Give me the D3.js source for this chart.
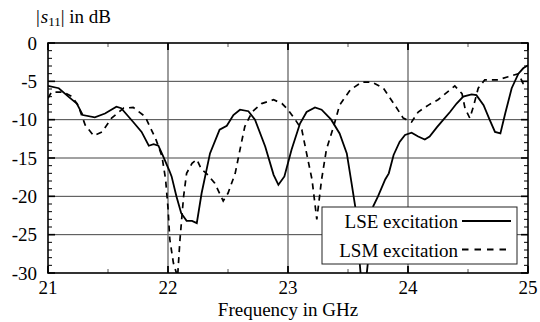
<!DOCTYPE html>
<html>
<head>
<meta charset="utf-8">
<script src="https://cdn.jsdelivr.net/npm/d3@7"></script>
</head>
<body style="margin:0;background:#fff">
<svg width="540" height="322" style="font-family:'Liberation Serif',serif"></svg>
<script>
// LSE excitation (solid)
var lseFreq = [21.0, 21.09, 21.17, 21.24, 21.29, 21.39, 21.475, 21.57, 21.61, 21.71, 21.78, 21.84, 21.88, 21.92, 21.96, 22.01,
  22.03, 22.07, 22.11, 22.155, 22.2, 22.24, 22.28, 22.35, 22.43, 22.49, 22.545, 22.6, 22.67, 22.725, 22.81, 22.88, 22.92, 22.97,
  23.03, 23.1, 23.155, 23.225, 23.28, 23.36, 23.43, 23.49, 23.53, 23.56, 23.586, 23.61, 23.65, 23.68, 23.71, 23.75, 23.81, 23.84,
  23.88, 23.93, 23.975, 24.03, 24.085, 24.14, 24.18, 24.24, 24.295, 24.35, 24.405, 24.46, 24.53, 24.57, 24.63, 24.68, 24.725,
  24.77, 24.81, 24.864, 24.92, 24.96, 25.0];
var lseDb = [-5.6, -5.9, -7.0, -7.9, -9.4, -9.7, -9.2, -8.3, -8.5, -10.3, -11.6, -13.4, -13.2, -13.4, -14.8, -16.6,
  -17.4, -20.0, -22.2, -23.2, -23.2, -23.5, -19.6, -14.4, -11.3, -10.8, -9.4, -8.7, -8.9, -10.0, -13.5, -17.2, -18.5, -17.4,
  -13.9, -10.5, -9.0, -8.4, -8.7, -10.0, -11.8, -14.4, -18.3, -21.3, -26.5, -31, -31, -26.5, -21.3, -20.0, -17.8, -17.0,
  -14.6, -12.9, -12.0, -11.7, -12.2, -12.6, -12.2, -11.0, -10.0, -9.0, -7.9, -7.0, -6.7, -6.8, -8.1, -10.0, -11.6,
  -11.8, -9.2, -5.9, -4.0, -3.3, -2.9];

// LSM excitation (dashed)
var lsmFreq = [21.0, 21.03, 21.13, 21.2, 21.25, 21.31, 21.38, 21.45, 21.53, 21.63, 21.71, 21.81, 21.9, 21.95, 21.98, 22.0,
  22.015, 22.045, 22.08, 22.1, 22.13, 22.155, 22.2, 22.24, 22.28, 22.32, 22.39, 22.46, 22.5, 22.56, 22.6, 22.64, 22.7, 22.78,
  22.88, 22.95, 23.0, 23.06, 23.115, 23.155, 23.2, 23.24, 23.28, 23.32, 23.38, 23.43, 23.52, 23.615, 23.7, 23.795, 23.89, 23.96,
  24.03, 24.085, 24.17, 24.25, 24.335, 24.39, 24.45, 24.475, 24.515, 24.545, 24.585, 24.64, 24.75, 24.835, 24.92, 24.96, 24.985];
var lsmDb = [-7.2, -6.4, -6.4, -7.0, -8.1, -10.7, -12.1, -11.6, -9.8, -8.5, -8.4, -9.6, -12.6, -14.8, -17.8, -21.5,
  -25.6, -28.7, -30.5, -25.6, -20.0, -17.0, -15.7, -15.2, -16.5, -17.0, -18.3, -20.6, -19.6, -17.0, -13.9, -10.9, -9.0, -7.9,
  -7.4, -7.9, -8.7, -10.0, -11.3, -14.4, -17.8, -23.0, -17.8, -13.9, -10.9, -8.1, -6.1, -5.1, -5.1, -5.9, -8.1, -9.8,
  -10.3, -9.0, -8.1, -7.4, -6.3, -5.6, -6.6, -8.5, -9.8, -8.3, -5.9, -4.8, -4.8, -4.4, -4.0, -5.3, -5.6];

var xTicks = [21, 22, 23, 24, 25];
var yTicks = [0, -5, -10, -15, -20, -25, -30];
var legendLabels = ["LSE excitation", "LSM excitation"];

(function() {
  var svg = d3.select("svg");
  var mLeft = 48, mRight = 528, mTop = 43, mBottom = 273;
  var fs = "19px", serif = "'Liberation Serif', 'Times New Roman', serif";

  var x = d3.scaleLinear().domain([21, 25]).range([mLeft, mRight]);
  var y = d3.scaleLinear().domain([-30, 0]).range([mBottom, mTop]);

  // clip
  svg.append("clipPath").attr("id", "plotclip")
    .append("rect").attr("x", mLeft).attr("y", mTop)
    .attr("width", mRight - mLeft).attr("height", mBottom - mTop);

  // grid lines
  var grid = svg.append("g");
  grid.selectAll(".hg").data(yTicks.filter(function(d) { return d > -30 && d < 0; }))
    .enter().append("line")
    .attr("x1", mLeft).attr("x2", mRight)
    .attr("y1", function(d) { return y(d); }).attr("y2", function(d) { return y(d); })
    .attr("stroke", "#444").attr("stroke-width", 1);
  grid.selectAll(".vg").data(xTicks.filter(function(d) { return d > 21 && d < 25; }))
    .enter().append("line")
    .attr("y1", mTop).attr("y2", mBottom)
    .attr("x1", function(d) { return x(d); }).attr("x2", function(d) { return x(d); })
    .attr("stroke", "#666").attr("stroke-width", 1.3);

  // ticks: minor every 1 dB on left/right, half GHz on top/bottom
  var ticks = svg.append("g").attr("stroke", "#000");
  var minorY = d3.range(-29, 0, 1).filter(function(d) { return d % 5 !== 0; });
  minorY.forEach(function(d) {
    ticks.append("line").attr("x1", mLeft).attr("x2", mLeft + 4).attr("y1", y(d)).attr("y2", y(d)).attr("stroke-width", 1);
    ticks.append("line").attr("x1", mRight - 4).attr("x2", mRight).attr("y1", y(d)).attr("y2", y(d)).attr("stroke-width", 1);
  });
  yTicks.forEach(function(d) {
    ticks.append("line").attr("x1", mLeft).attr("x2", mLeft + 7).attr("y1", y(d)).attr("y2", y(d)).attr("stroke-width", 1.6);
    ticks.append("line").attr("x1", mRight - 7).attr("x2", mRight).attr("y1", y(d)).attr("y2", y(d)).attr("stroke-width", 1.6);
  });
  [21.5, 22.5, 23.5, 24.5].forEach(function(d) {
    ticks.append("line").attr("x1", x(d)).attr("x2", x(d)).attr("y1", mTop).attr("y2", mTop + 4).attr("stroke-width", 1).attr("stroke", "#555");
    ticks.append("line").attr("x1", x(d)).attr("x2", x(d)).attr("y1", mBottom - 4).attr("y2", mBottom).attr("stroke-width", 1).attr("stroke", "#555");
  });
  xTicks.forEach(function(d) {
    ticks.append("line").attr("x1", x(d)).attr("x2", x(d)).attr("y1", mTop).attr("y2", mTop + 7).attr("stroke-width", 1.8);
    ticks.append("line").attr("x1", x(d)).attr("x2", x(d)).attr("y1", mBottom - 7).attr("y2", mBottom).attr("stroke-width", 1.8);
  });

  // curves
  var line = d3.line()
    .x(function(d) { return x(d[0]); })
    .y(function(d) { return y(d[1]); });

  var curves = svg.append("g").attr("clip-path", "url(#plotclip)");
  curves.append("path")
    .datum(d3.zip(lsmFreq, lsmDb))
    .attr("d", line)
    .attr("fill", "none").attr("stroke", "#000").attr("stroke-width", 1.7)
    .attr("stroke-dasharray", "6,5");
  curves.append("path")
    .datum(d3.zip(lseFreq, lseDb))
    .attr("d", line)
    .attr("fill", "none").attr("stroke", "#000").attr("stroke-width", 1.8);

  // frame
  svg.append("rect")
    .attr("x", mLeft).attr("y", mTop).attr("width", mRight - mLeft).attr("height", mBottom - mTop)
    .attr("fill", "none").attr("stroke", "#000").attr("stroke-width", 1.6);

  // tick labels
  svg.append("g").selectAll("text").data(yTicks).enter().append("text")
    .attr("x", 37).attr("y", function(d) { return y(d) + 6.5; })
    .attr("text-anchor", "end")
    .style("font-size", fs).style("font-family", serif)
    .text(function(d) { return d; });
  svg.append("g").selectAll("text").data(xTicks).enter().append("text")
    .attr("x", function(d) { return x(d); }).attr("y", 294)
    .attr("text-anchor", "middle")
    .style("font-size", fs).style("font-family", serif)
    .text(function(d) { return d; });

  // axis titles
  svg.append("text").attr("x", 288).attr("y", 316)
    .attr("text-anchor", "middle")
    .style("font-size", fs).style("font-family", serif)
    .text("Frequency in GHz");

  var title = svg.append("text").attr("x", 36).attr("y", 23)
    .style("font-size", fs).style("font-family", serif);
  title.append("tspan").text("|");
  title.append("tspan").style("font-style", "italic").attr("dx", 1).text("s");
  title.append("tspan").style("font-size", "13px").attr("dy", 3).text("11");
  title.append("tspan").attr("dy", -3).text("|");
  title.append("tspan").text(" in dB");

  // legend
  var legend = svg.append("g");
  legend.append("rect")
    .attr("x", 322).attr("y", 207).attr("width", 195).attr("height", 57)
    .attr("fill", "#fff").attr("stroke", "#222").attr("stroke-width", 1);
  legendLabels.forEach(function(lbl, i) {
    var ly = 221 + i * 28.5;
    legend.append("text").attr("x", 458).attr("y", ly + 7)
      .attr("text-anchor", "end")
      .style("font-size", fs).style("font-family", serif).text(lbl);
    legend.append("line").attr("x1", 462).attr("x2", 511).attr("y1", ly).attr("y2", ly)
      .attr("stroke", "#000").attr("stroke-width", 1.8)
      .attr("stroke-dasharray", i === 1 ? "6.5,6" : null);
  });
})();
</script>
</body>
</html>
